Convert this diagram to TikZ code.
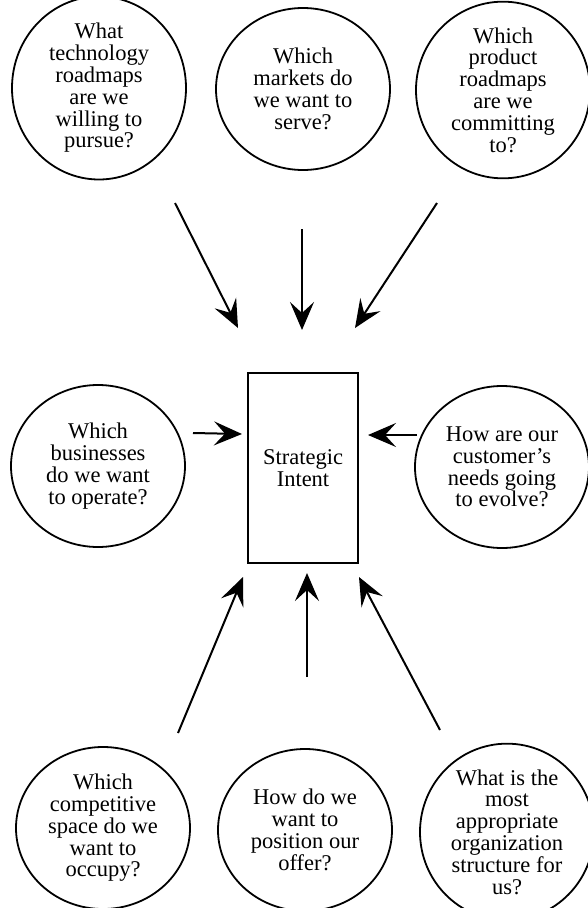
\documentclass[tikz,border=0pt]{standalone}
\usepackage{fontspec}
\setmainfont{Liberation Serif}
\usetikzlibrary{arrows.meta,shapes.geometric}

\tikzset{
  question/.style={ellipse, draw, line width=1.8pt, minimum width=174pt, minimum height=162pt,
    inner sep=0pt, align=center, font=\fontsize{22.5}{21.8}\selectfont},
  input/.style={-{Stealth[length=28pt,width=24pt,inset=11pt]}, line width=2pt},
}

\begin{document}
\begin{tikzpicture}[x=1pt,y=-1pt]
        \useasboundingbox (0,0) rectangle (588,908);

        % Centre box
        \node[draw, line width=2.4pt, minimum width=110pt, minimum height=190pt, inner sep=0pt,
          align=center, font=\fontsize{22.5}{21.8}\selectfont] (intent) at (303,468) {Strategic\\Intent};

        % Questions, top row
        \node[question] (tech) at (99,88) {What\\technology\\roadmaps\\are we\\willing to\\pursue?};
        \node[question] (markets) at (303,89) {Which\\markets do\\we want to\\serve?};
        \node[question] (product) at (503,90) {Which\\product\\roadmaps\\are we\\committing\\to?};

        % Questions, middle row
        \node[question] (business) at (98,466) {Which\\businesses\\do we want\\to operate?};
        \node[question] (customer) at (502,467) {How are our\\customer's\\needs going\\to evolve?};

        % Questions, bottom row
        \node[question] (space) at (103,828) {Which\\competitive\\space do we\\want to\\occupy?};
        \node[question] (offer) at (305,830) {How do we\\want to\\position our\\offer?};
        \node[question] (structure) at (507,832) {What is the\\most\\appropriate\\organization\\structure for\\us?};

        % Arrow ends
        \coordinate (tech-out) at (175,203);
        \coordinate (markets-out) at (302,229);
        \coordinate (product-out) at (437,203);
        \coordinate (business-out) at (193,433);
        \coordinate (customer-out) at (417,435);
        \coordinate (space-out) at (178,733);
        \coordinate (offer-out) at (307,677);
        \coordinate (structure-out) at (440,730);

        \coordinate (intent-nw) at (238,328);
        \coordinate (intent-n) at (302,330);
        \coordinate (intent-ne) at (355,328);
        \coordinate (intent-w) at (242,434);
        \coordinate (intent-e) at (368,435);
        \coordinate (intent-sw) at (243,577);
        \coordinate (intent-s) at (307,573);
        \coordinate (intent-se) at (359,577);

        % Arrows
        \draw[input] (tech-out) -- (intent-nw);
        \draw[input] (markets-out) -- (intent-n);
        \draw[input] (product-out) -- (intent-ne);
        \draw[input] (business-out) -- (intent-w);
        \draw[input] (customer-out) -- (intent-e);
        \draw[input] (space-out) -- (intent-sw);
        \draw[input] (offer-out) -- (intent-s);
        \draw[input] (structure-out) -- (intent-se);

\end{tikzpicture}
\end{document}
